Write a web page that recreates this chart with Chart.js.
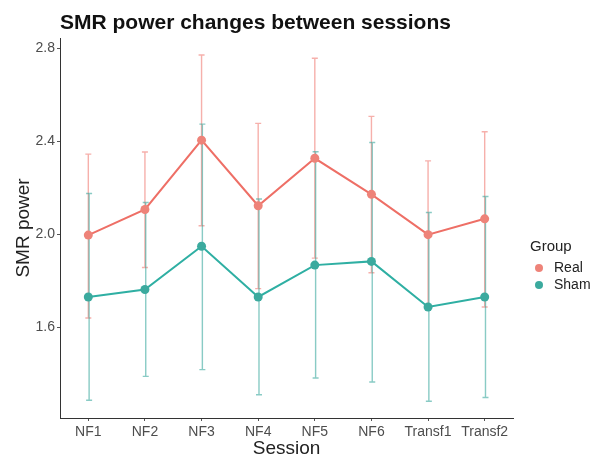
<!DOCTYPE html>
<html>
<head>
<meta charset="utf-8">
<script src="https://cdn.jsdelivr.net/npm/chart.js@4.4.1/dist/chart.umd.min.js"></script>
<style>
    body { margin: 0; background: #ffffff; }
</style>
</head>
<body>
<canvas id="smrChart" width="600" height="460"></canvas>
<script>
var sessions = ['NF1', 'NF2', 'NF3', 'NF4', 'NF5', 'NF6', 'Transf1', 'Transf2']

var realMean = [1.996, 2.106, 2.404, 2.122, 2.326, 2.171, 1.998, 2.066]
var realLow = [1.640, 1.857, 2.036, 1.766, 1.897, 1.834, 1.695, 1.687]
var realHigh = [2.344, 2.353, 2.770, 2.476, 2.756, 2.506, 2.315, 2.440]

var shamMean = [1.730, 1.762, 1.948, 1.730, 1.867, 1.883, 1.687, 1.730]
var shamLow = [1.286, 1.389, 1.418, 1.310, 1.382, 1.365, 1.282, 1.298]
var shamHigh = [2.175, 2.136, 2.473, 2.151, 2.354, 2.394, 2.093, 2.162]

var yTicks = [1.6, 2.0, 2.4, 2.8]

var fontFamily = '"Liberation Sans", Arial, sans-serif'
var realColor = '#EE6F66'
var shamColor = '#2FAFA3'

// error bars go under the lines, drawn from the same scales
var errorBarPlugin = {
    id: 'errorBars',
    beforeDatasetsDraw: function (chart) {
        var ctx = chart.ctx
        var x = chart.scales.x
        var y = chart.scales.y
        var bars = [
            { low: realLow, high: realHigh, color: 'rgba(238,111,102,0.55)', shift: 0 },
            { low: shamLow, high: shamHigh, color: 'rgba(40,160,150,0.55)', shift: 0.8 }
        ]
        ctx.save()
        ctx.lineWidth = 1.4
        bars.forEach(function (b) {
            ctx.strokeStyle = b.color
            for (var i = 0; i < sessions.length; i++) {
                var px = x.getPixelForValue(i) + b.shift
                var top = y.getPixelForValue(b.high[i])
                var bottom = y.getPixelForValue(b.low[i])
                ctx.beginPath()
                ctx.moveTo(px, top)
                ctx.lineTo(px, bottom)
                ctx.moveTo(px - 3, top)
                ctx.lineTo(px + 3, top)
                ctx.moveTo(px - 3, bottom)
                ctx.lineTo(px + 3, bottom)
                ctx.stroke()
            }
        })
        ctx.restore()
    }
}

var titleLegendPlugin = {
    id: 'titleLegend',
    afterDraw: function (chart) {
        var ctx = chart.ctx
        ctx.save()
        ctx.fillStyle = '#111111'
        ctx.textBaseline = 'alphabetic'
        ctx.textAlign = 'left'
        ctx.font = 'bold 21px ' + fontFamily
        ctx.fillText('SMR power changes between sessions', 60, 29)

        ctx.fillStyle = '#222222'
        ctx.font = '15px ' + fontFamily
        ctx.textBaseline = 'middle'
        ctx.fillText('Group', 530, 247)

        var items = [
            { label: 'Real', color: '#EE8379', y: 268 },
            { label: 'Sham', color: '#3BAA9E', y: 285 }
        ]
        ctx.font = '14px ' + fontFamily
        items.forEach(function (it) {
            ctx.fillStyle = it.color
            ctx.beginPath()
            ctx.arc(539, it.y, 4, 0, Math.PI * 2)
            ctx.fill()
            ctx.fillStyle = '#222222'
            ctx.fillText(it.label, 554, it.y)
        })
        ctx.restore()
    }
}

var smrChartData = {
    labels: sessions,
    datasets: [
        {
            label: 'Real',
            data: realMean,
            borderColor: realColor,
            backgroundColor: '#EE8379',
            borderWidth: 2,
            pointRadius: 4.5,
            pointBorderWidth: 0,
            tension: 0
        },
        {
            label: 'Sham',
            data: shamMean,
            borderColor: shamColor,
            backgroundColor: '#3BAA9E',
            borderWidth: 2,
            pointRadius: 4.5,
            pointBorderWidth: 0,
            tension: 0
        }
    ]
}

var smrChartOptions = {
    responsive: false,
    animation: false,
    devicePixelRatio: 1,
    layout: {
        padding: { top: 38, right: 87, left: 0, bottom: 0 }
    },
    plugins: {
        legend: { display: false },
        tooltip: { enabled: false }
    },
    scales: {
        x: {
            offset: true,
            grid: { drawOnChartArea: false, drawTicks: true, tickLength: 3, color: '#555555' },
            border: { display: true, color: '#333333', width: 1 },
            ticks: { color: '#4D4D4D', padding: 3, font: { family: fontFamily, size: 14 } },
            title: {
                display: true,
                text: 'Session',
                color: '#222222',
                padding: 0,
                font: { family: fontFamily, size: 19 }
            },
            afterFit: function (scale) { scale.height = 42 }
        },
        y: {
            min: 1.21,
            max: 2.843,
            grid: { drawOnChartArea: false, drawTicks: true, tickLength: 3, color: '#555555' },
            border: { display: true, color: '#333333', width: 1 },
            afterBuildTicks: function (scale) {
                scale.ticks = yTicks.map(function (v) { return { value: v } })
            },
            ticks: {
                color: '#4D4D4D',
                padding: 2,
                font: { family: fontFamily, size: 14 },
                callback: function (v) { return Number(v).toFixed(1) }
            },
            title: {
                display: true,
                text: 'SMR power',
                color: '#222222',
                padding: { top: 12, bottom: 0 },
                font: { family: fontFamily, size: 19 }
            },
            afterFit: function (scale) { scale.width = 60 }
        }
    }
}

var smrChart = new Chart(document.getElementById('smrChart').getContext('2d'), {
    type: 'line',
    data: smrChartData,
    options: smrChartOptions,
    plugins: [errorBarPlugin, titleLegendPlugin]
})
</script>
</body>
</html>
